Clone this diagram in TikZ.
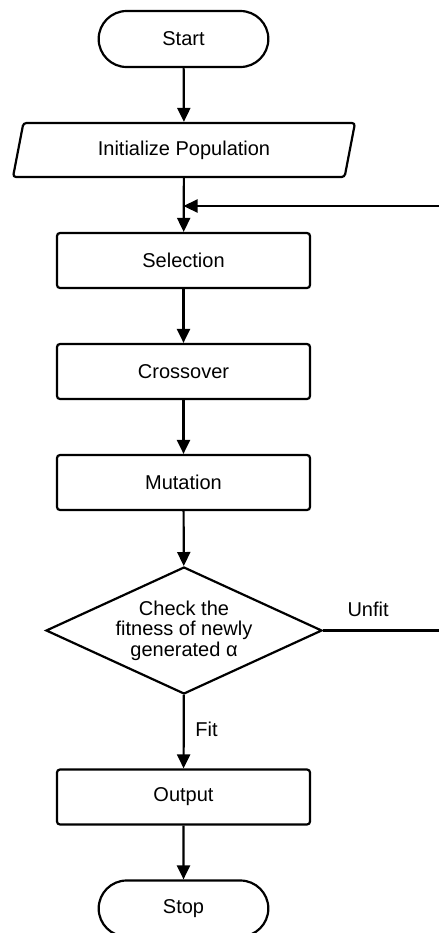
\documentclass[tikz,border=0pt]{standalone}
\usepackage{fontspec}
\setmainfont{Liberation Sans}
\usetikzlibrary{shapes.geometric,shapes.misc,arrows.meta}

\begin{document}
\begin{tikzpicture}[x=0.5pt,y=-0.5pt,line width=1.1pt,
    >={Triangle[length=7pt,width=6.5pt]},
    every node/.style={font=\fontsize{10}{10.3}\selectfont},
    term/.style={draw,rounded rectangle,minimum width=91.5pt,minimum height=28pt},
    io/.style={draw,trapezium,trapezium left angle=72,trapezium right angle=108,
      trapezium stretches body,minimum width=171pt,minimum height=27pt,rounded corners=1.5pt},
    proc/.style={draw,rectangle,rounded corners=1.5pt,minimum width=126.5pt,minimum height=27.5pt},
    dec/.style={draw,diamond,aspect=2.17,inner sep=0pt,minimum width=138pt,
      minimum height=63.5pt,align=center}]
    \useasboundingbox (0,0) rectangle (439,933);

    \node[term] (start) at (183.5,39) {Start};
    \node[io] (init) at (184,150) {Initialize Population};
    \node[proc] (sel) at (183.5,260.5) {Selection};
    \node[proc] (cross) at (183.5,371.5) {Crossover};
    \node[proc] (mut) at (183.5,482.5) {Mutation};
    \node[dec] (check) at (184,630.5) {Check the\\fitness of newly\\generated α};
    \node[proc] (out) at (183.5,797) {Output};
    \node[term] (stop) at (183.5,908.5) {Stop};

    \coordinate (join) at (183.5,206);
    \coordinate (r1) at (443,630.5);
    \coordinate (r2) at (443,206);

    \draw[->] (start) -- (init);
    \draw[->] (init) -- (sel);
    \draw[->] (sel) -- (cross);
    \draw[->] (cross) -- (mut);
    \draw[->] (mut) -- (check);
    \draw[->] (check) -- node[pos=.47,right=2pt] (fit) {Fit} (out);
    \draw[->] (out) -- (stop);
    \draw[->] (check.east) -- node[pos=.375,above=3pt] (unfit) {Unfit} (r1) -- (r2) -- (join);
\end{tikzpicture}
\end{document}
